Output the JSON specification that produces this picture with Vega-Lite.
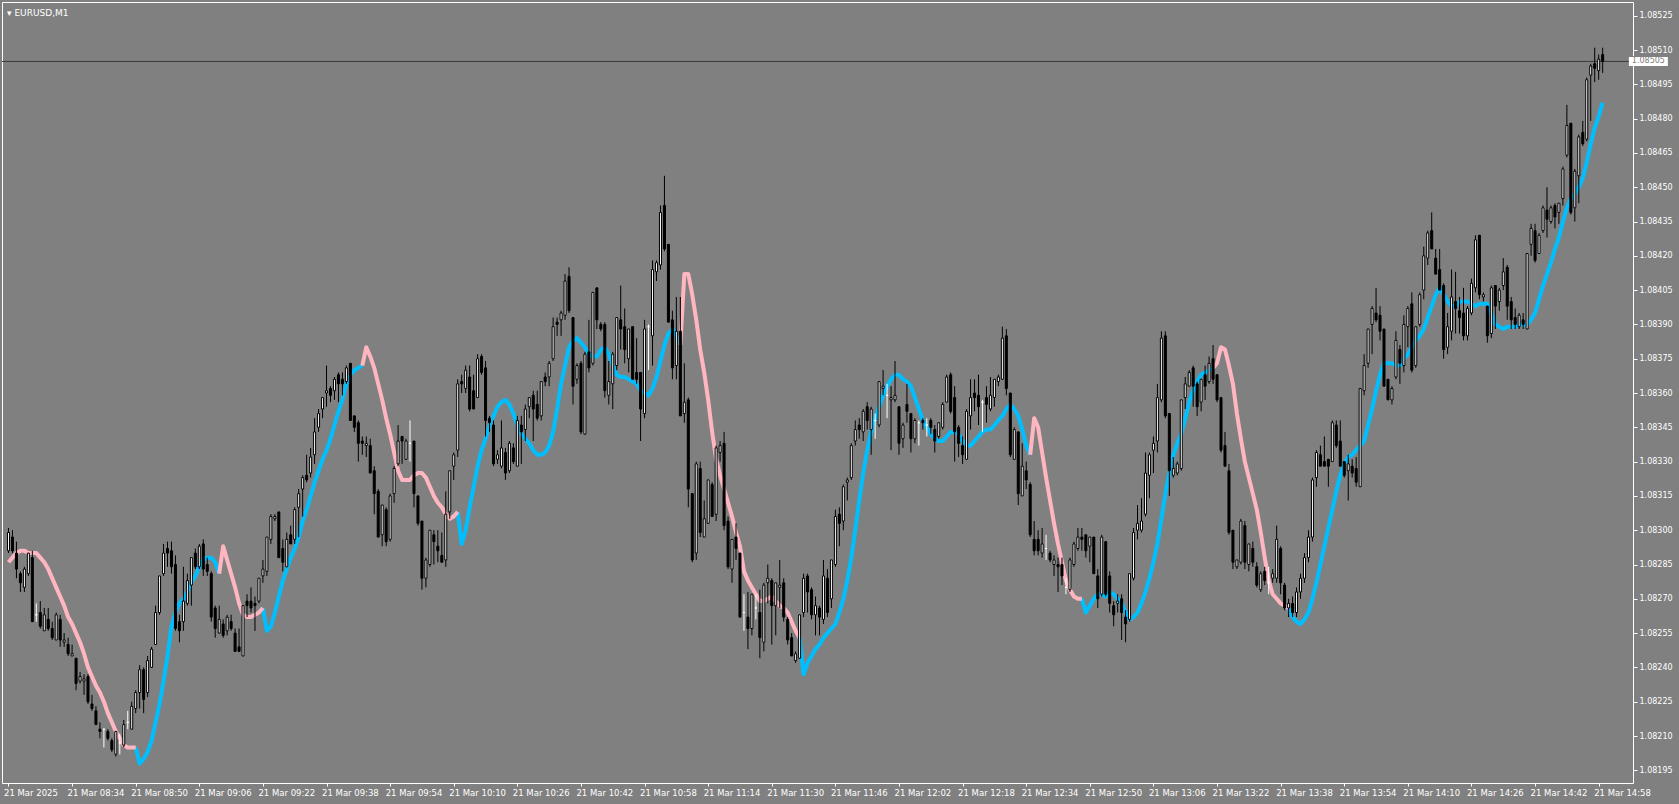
{
"$schema": "https://vega.github.io/schema/vega-lite/v6.json",
"width": 1631, "height": 781,
"autosize": {"type": "none"},
"padding": {"left": 2, "top": 2, "right": 46, "bottom": 21},
"background": "#808080",
"config": {"view": {"stroke": "#ffffff", "strokeWidth": 1, "fill": "#808080"}, "axis": {"labelOverlap": false, "labelFlush": false, "grid": false, "domain": false, "tickColor": "#ffffff", "labelColor": "#ffffff", "labelFont": "DejaVu Sans"}, "axisY": {"labelOverlap": false, "labelFontSize": 8, "tickSize": 4, "labelPadding": 2, "tickCount": 40}},
"title": {"text": "▾ EURUSD,M1", "anchor": "start", "frame": "group", "orient": "top", "offset": -9, "baseline": "middle", "dx": 5, "dy": 11, "fontSize": 9, "font": "DejaVu Sans", "fontWeight": "normal", "color": "#ffffff"},
"data": {"values": [
{"i":0,"o":1.08291,"h":1.08301,"l":1.08290,"c":1.08299,"dn":1.08286},
{"i":1,"o":1.08297,"h":1.08300,"l":1.08290,"c":1.08291,"dn":1.08288},
{"i":2,"o":1.08290,"h":1.08295,"l":1.08279,"c":1.08283,"dn":1.08290},
{"i":3,"o":1.08281,"h":1.08282,"l":1.08273,"c":1.08277,"dn":1.08291},
{"i":4,"o":1.08275,"h":1.08284,"l":1.08273,"c":1.08283,"dn":1.08291},
{"i":5,"o":1.08281,"h":1.08290,"l":1.08280,"c":1.08290,"dn":1.08290},
{"i":6,"o":1.08288,"h":1.08291,"l":1.08260,"c":1.08260,"dn":1.08290},
{"i":7,"o":1.08263,"h":1.08268,"l":1.08260,"c":1.08263,"dn":1.08290},
{"i":8,"o":1.08264,"h":1.08269,"l":1.08257,"c":1.08258,"dn":1.08288},
{"i":9,"o":1.08256,"h":1.08266,"l":1.08256,"c":1.08263,"dn":1.08286},
{"i":10,"o":1.08261,"h":1.08266,"l":1.08256,"c":1.08257,"dn":1.08283},
{"i":11,"o":1.08257,"h":1.08260,"l":1.08252,"c":1.08253,"dn":1.08279},
{"i":12,"o":1.08252,"h":1.08264,"l":1.08252,"c":1.08263,"dn":1.08275},
{"i":13,"o":1.08261,"h":1.08263,"l":1.08249,"c":1.08252,"dn":1.08271},
{"i":14,"o":1.08251,"h":1.08255,"l":1.08249,"c":1.08252,"dn":1.08267},
{"i":15,"o":1.08250,"h":1.08253,"l":1.08245,"c":1.08246,"dn":1.08262},
{"i":16,"o":1.08245,"h":1.08250,"l":1.08245,"c":1.08246,"dn":1.08259},
{"i":17,"o":1.08244,"h":1.08244,"l":1.08230,"c":1.08233,"dn":1.08255},
{"i":18,"o":1.08234,"h":1.08238,"l":1.08233,"c":1.08236,"dn":1.08251},
{"i":19,"o":1.08234,"h":1.08237,"l":1.08228,"c":1.08235,"dn":1.08246},
{"i":20,"o":1.08236,"h":1.08237,"l":1.08224,"c":1.08225,"dn":1.08240},
{"i":21,"o":1.08224,"h":1.08228,"l":1.08221,"c":1.08222,"dn":1.08236},
{"i":22,"o":1.08221,"h":1.08223,"l":1.08215,"c":1.08215,"dn":1.08232},
{"i":23,"o":1.08213,"h":1.08216,"l":1.08209,"c":1.08212,"dn":1.08229},
{"i":24,"o":1.08213,"h":1.08213,"l":1.08205,"c":1.08213,"dn":1.08225},
{"i":25,"o":1.08212,"h":1.08213,"l":1.08208,"c":1.08209,"dn":1.08220},
{"i":26,"o":1.08208,"h":1.08209,"l":1.08203,"c":1.08204,"dn":1.08216},
{"i":27,"o":1.08202,"h":1.08212,"l":1.08201,"c":1.08212,"dn":1.08212},
{"i":28,"o":1.08207,"h":1.08211,"l":1.08202,"c":1.08207,"dn":1.08209},
{"i":29,"o":1.08206,"h":1.08217,"l":1.08205,"c":1.08215,"dn":1.08206},
{"i":30,"o":1.08216,"h":1.08221,"l":1.08213,"c":1.08216,"dn":1.08205},
{"i":31,"o":1.08213,"h":1.08225,"l":1.08213,"c":1.08223,"dn":1.08205},
{"i":32,"o":1.08222,"h":1.08230,"l":1.08220,"c":1.08229,"dn":1.08205,"up":1.08205},
{"i":33,"o":1.08229,"h":1.08241,"l":1.08222,"c":1.08239,"up":1.08198},
{"i":34,"o":1.08239,"h":1.08240,"l":1.08220,"c":1.08226,"up":1.08200},
{"i":35,"o":1.08229,"h":1.08245,"l":1.08227,"c":1.08243,"up":1.08203},
{"i":36,"o":1.08240,"h":1.08249,"l":1.08240,"c":1.08248,"up":1.08208},
{"i":37,"o":1.08250,"h":1.08267,"l":1.08250,"c":1.08264,"up":1.08216},
{"i":38,"o":1.08264,"h":1.08280,"l":1.08263,"c":1.08280,"up":1.08224},
{"i":39,"o":1.08281,"h":1.08294,"l":1.08280,"c":1.08290,"up":1.08234},
{"i":40,"o":1.08292,"h":1.08295,"l":1.08284,"c":1.08290,"up":1.08245},
{"i":41,"o":1.08291,"h":1.08295,"l":1.08281,"c":1.08284,"up":1.08258},
{"i":42,"o":1.08285,"h":1.08289,"l":1.08256,"c":1.08257,"up":1.08264},
{"i":43,"o":1.08260,"h":1.08263,"l":1.08251,"c":1.08256,"up":1.08268},
{"i":44,"o":1.08260,"h":1.08284,"l":1.08256,"c":1.08269,"up":1.08270},
{"i":45,"o":1.08268,"h":1.08281,"l":1.08267,"c":1.08278,"up":1.08273},
{"i":46,"o":1.08276,"h":1.08288,"l":1.08267,"c":1.08288,"up":1.08277},
{"i":47,"o":1.08290,"h":1.08292,"l":1.08283,"c":1.08284,"up":1.08280},
{"i":48,"o":1.08284,"h":1.08294,"l":1.08283,"c":1.08293,"up":1.08284},
{"i":49,"o":1.08294,"h":1.08296,"l":1.08280,"c":1.08283,"up":1.08287},
{"i":50,"o":1.08285,"h":1.08288,"l":1.08280,"c":1.08282,"up":1.08288},
{"i":51,"o":1.08281,"h":1.08282,"l":1.08260,"c":1.08262,"up":1.08288},
{"i":52,"o":1.08266,"h":1.08267,"l":1.08253,"c":1.08257,"up":1.08286},
{"i":53,"o":1.08255,"h":1.08267,"l":1.08255,"c":1.08261,"up":1.08281,"dn":1.08281},
{"i":54,"o":1.08259,"h":1.08261,"l":1.08253,"c":1.08254,"dn":1.08293},
{"i":55,"o":1.08256,"h":1.08263,"l":1.08254,"c":1.08262,"dn":1.08287},
{"i":56,"o":1.08260,"h":1.08263,"l":1.08256,"c":1.08257,"dn":1.08281},
{"i":57,"o":1.08255,"h":1.08257,"l":1.08247,"c":1.08247,"dn":1.08275},
{"i":58,"o":1.08249,"h":1.08257,"l":1.08247,"c":1.08247,"dn":1.08268},
{"i":59,"o":1.08245,"h":1.08267,"l":1.08245,"c":1.08267,"dn":1.08263},
{"i":60,"o":1.08269,"h":1.08272,"l":1.08262,"c":1.08267,"dn":1.08262},
{"i":61,"o":1.08269,"h":1.08275,"l":1.08264,"c":1.08266,"dn":1.08262},
{"i":62,"o":1.08268,"h":1.08271,"l":1.08256,"c":1.08267,"dn":1.08263},
{"i":63,"o":1.08269,"h":1.08279,"l":1.08268,"c":1.08279,"dn":1.08264},
{"i":64,"o":1.08280,"h":1.08287,"l":1.08277,"c":1.08283,"dn":1.08266,"up":1.08266},
{"i":65,"o":1.08282,"h":1.08297,"l":1.08280,"c":1.08297,"up":1.08256},
{"i":66,"o":1.08296,"h":1.08307,"l":1.08294,"c":1.08306,"up":1.08258},
{"i":67,"o":1.08305,"h":1.08307,"l":1.08304,"c":1.08306,"up":1.08264},
{"i":68,"o":1.08308,"h":1.08308,"l":1.08288,"c":1.08288,"up":1.08271},
{"i":69,"o":1.08292,"h":1.08296,"l":1.08282,"c":1.08286,"up":1.08278},
{"i":70,"o":1.08284,"h":1.08299,"l":1.08284,"c":1.08296,"up":1.08283},
{"i":71,"o":1.08298,"h":1.08302,"l":1.08294,"c":1.08294,"up":1.08288},
{"i":72,"o":1.08296,"h":1.08310,"l":1.08294,"c":1.08309,"up":1.08292},
{"i":73,"o":1.08310,"h":1.08318,"l":1.08297,"c":1.08316,"up":1.08297},
{"i":74,"o":1.08318,"h":1.08324,"l":1.08306,"c":1.08323,"up":1.08304},
{"i":75,"o":1.08324,"h":1.08333,"l":1.08321,"c":1.08322,"up":1.08309},
{"i":76,"o":1.08325,"h":1.08336,"l":1.08323,"c":1.08332,"up":1.08315},
{"i":77,"o":1.08333,"h":1.08349,"l":1.08329,"c":1.08343,"up":1.08321},
{"i":78,"o":1.08345,"h":1.08353,"l":1.08343,"c":1.08351,"up":1.08326},
{"i":79,"o":1.08353,"h":1.08358,"l":1.08349,"c":1.08358,"up":1.08331},
{"i":80,"o":1.08360,"h":1.08372,"l":1.08354,"c":1.08361,"up":1.08335},
{"i":81,"o":1.08362,"h":1.08363,"l":1.08356,"c":1.08359,"up":1.08340},
{"i":82,"o":1.08361,"h":1.08367,"l":1.08357,"c":1.08366,"up":1.08346},
{"i":83,"o":1.08368,"h":1.08369,"l":1.08356,"c":1.08364,"up":1.08352},
{"i":84,"o":1.08366,"h":1.08369,"l":1.08359,"c":1.08364,"up":1.08357},
{"i":85,"o":1.08365,"h":1.08372,"l":1.08364,"c":1.08371,"up":1.08364},
{"i":86,"o":1.08373,"h":1.08373,"l":1.08348,"c":1.08348,"up":1.08368},
{"i":87,"o":1.08350,"h":1.08350,"l":1.08343,"c":1.08345,"up":1.08370},
{"i":88,"o":1.08347,"h":1.08348,"l":1.08330,"c":1.08338,"up":1.08371},
{"i":89,"o":1.08339,"h":1.08341,"l":1.08333,"c":1.08338,"up":1.08372,"dn":1.08372},
{"i":90,"o":1.08337,"h":1.08341,"l":1.08332,"c":1.08338,"dn":1.08380},
{"i":91,"o":1.08337,"h":1.08340,"l":1.08325,"c":1.08325,"dn":1.08376},
{"i":92,"o":1.08326,"h":1.08328,"l":1.08307,"c":1.08316,"dn":1.08371},
{"i":93,"o":1.08317,"h":1.08318,"l":1.08297,"c":1.08297,"dn":1.08364},
{"i":94,"o":1.08298,"h":1.08311,"l":1.08293,"c":1.08311,"dn":1.08357},
{"i":95,"o":1.08309,"h":1.08310,"l":1.08293,"c":1.08295,"dn":1.08349},
{"i":96,"o":1.08296,"h":1.08316,"l":1.08295,"c":1.08315,"dn":1.08342},
{"i":97,"o":1.08316,"h":1.08328,"l":1.08312,"c":1.08327,"dn":1.08334},
{"i":98,"o":1.08329,"h":1.08346,"l":1.08328,"c":1.08339,"dn":1.08326},
{"i":99,"o":1.08341,"h":1.08341,"l":1.08329,"c":1.08339,"dn":1.08322},
{"i":100,"o":1.08331,"h":1.08340,"l":1.08331,"c":1.08339,"dn":1.08322},
{"i":101,"o":1.08338,"h":1.08348,"l":1.08330,"c":1.08338,"dn":1.08322},
{"i":102,"o":1.08339,"h":1.08339,"l":1.08310,"c":1.08316,"dn":1.08324},
{"i":103,"o":1.08315,"h":1.08315,"l":1.08302,"c":1.08303,"dn":1.08325},
{"i":104,"o":1.08304,"h":1.08304,"l":1.08274,"c":1.08279,"dn":1.08325},
{"i":105,"o":1.08279,"h":1.08288,"l":1.08275,"c":1.08287,"dn":1.08323},
{"i":106,"o":1.08285,"h":1.08300,"l":1.08284,"c":1.08300,"dn":1.08319},
{"i":107,"o":1.08298,"h":1.08300,"l":1.08285,"c":1.08295,"dn":1.08315},
{"i":108,"o":1.08293,"h":1.08300,"l":1.08286,"c":1.08291,"dn":1.08312},
{"i":109,"o":1.08289,"h":1.08299,"l":1.08286,"c":1.08286,"dn":1.08310},
{"i":110,"o":1.08287,"h":1.08317,"l":1.08284,"c":1.08307,"dn":1.08307},
{"i":111,"o":1.08308,"h":1.08326,"l":1.08305,"c":1.08326,"dn":1.08305},
{"i":112,"o":1.08328,"h":1.08334,"l":1.08322,"c":1.08333,"dn":1.08306},
{"i":113,"o":1.08335,"h":1.08366,"l":1.08332,"c":1.08364,"dn":1.08308,"up":1.08308},
{"i":114,"o":1.08365,"h":1.08368,"l":1.08360,"c":1.08364,"up":1.08294},
{"i":115,"o":1.08362,"h":1.08372,"l":1.08360,"c":1.08370,"up":1.08300},
{"i":116,"o":1.08367,"h":1.08372,"l":1.08352,"c":1.08353,"up":1.08310},
{"i":117,"o":1.08361,"h":1.08368,"l":1.08353,"c":1.08353,"up":1.08319},
{"i":118,"o":1.08358,"h":1.08377,"l":1.08358,"c":1.08375,"up":1.08328},
{"i":119,"o":1.08376,"h":1.08377,"l":1.08368,"c":1.08369,"up":1.08335},
{"i":120,"o":1.08371,"h":1.08374,"l":1.08341,"c":1.08348,"up":1.08340},
{"i":121,"o":1.08349,"h":1.08350,"l":1.08343,"c":1.08347,"up":1.08346},
{"i":122,"o":1.08346,"h":1.08348,"l":1.08328,"c":1.08329,"up":1.08350},
{"i":123,"o":1.08331,"h":1.08335,"l":1.08329,"c":1.08333,"up":1.08354},
{"i":124,"o":1.08328,"h":1.08348,"l":1.08327,"c":1.08336,"up":1.08356},
{"i":125,"o":1.08334,"h":1.08336,"l":1.08322,"c":1.08325,"up":1.08357},
{"i":126,"o":1.08326,"h":1.08339,"l":1.08325,"c":1.08338,"up":1.08355},
{"i":127,"o":1.08336,"h":1.08338,"l":1.08329,"c":1.08330,"up":1.08351},
{"i":128,"o":1.08328,"h":1.08350,"l":1.08328,"c":1.08348,"up":1.08346},
{"i":129,"o":1.08346,"h":1.08350,"l":1.08329,"c":1.08343,"up":1.08342},
{"i":130,"o":1.08344,"h":1.08355,"l":1.08339,"c":1.08353,"up":1.08340},
{"i":131,"o":1.08354,"h":1.08358,"l":1.08349,"c":1.08358,"up":1.08338},
{"i":132,"o":1.08359,"h":1.08361,"l":1.08339,"c":1.08353,"up":1.08335},
{"i":133,"o":1.08355,"h":1.08361,"l":1.08348,"c":1.08349,"up":1.08333},
{"i":134,"o":1.08350,"h":1.08365,"l":1.08348,"c":1.08365,"up":1.08333},
{"i":135,"o":1.08367,"h":1.08369,"l":1.08363,"c":1.08365,"up":1.08334},
{"i":136,"o":1.08367,"h":1.08374,"l":1.08363,"c":1.08373,"up":1.08337},
{"i":137,"o":1.08375,"h":1.08393,"l":1.08374,"c":1.08389,"up":1.08343},
{"i":138,"o":1.08391,"h":1.08393,"l":1.08385,"c":1.08390,"up":1.08353},
{"i":139,"o":1.08392,"h":1.08396,"l":1.08385,"c":1.08395,"up":1.08364},
{"i":140,"o":1.08394,"h":1.08412,"l":1.08392,"c":1.08409,"up":1.08372},
{"i":141,"o":1.08411,"h":1.08415,"l":1.08395,"c":1.08396,"up":1.08380},
{"i":142,"o":1.08393,"h":1.08393,"l":1.08355,"c":1.08363,"up":1.08383},
{"i":143,"o":1.08366,"h":1.08373,"l":1.08364,"c":1.08372,"up":1.08384},
{"i":144,"o":1.08373,"h":1.08374,"l":1.08342,"c":1.08343,"up":1.08382},
{"i":145,"o":1.08342,"h":1.08378,"l":1.08342,"c":1.08377,"up":1.08380},
{"i":146,"o":1.08378,"h":1.08392,"l":1.08369,"c":1.08371,"up":1.08377},
{"i":147,"o":1.08373,"h":1.08404,"l":1.08372,"c":1.08404,"up":1.08376},
{"i":148,"o":1.08406,"h":1.08406,"l":1.08388,"c":1.08392,"up":1.08376},
{"i":149,"o":1.08390,"h":1.08391,"l":1.08387,"c":1.08388,"up":1.08379},
{"i":150,"o":1.08390,"h":1.08391,"l":1.08358,"c":1.08361,"up":1.08380},
{"i":151,"o":1.08359,"h":1.08374,"l":1.08355,"c":1.08365,"up":1.08377},
{"i":152,"o":1.08364,"h":1.08378,"l":1.08353,"c":1.08377,"up":1.08372},
{"i":153,"o":1.08372,"h":1.08393,"l":1.08370,"c":1.08393,"up":1.08368},
{"i":154,"o":1.08392,"h":1.08407,"l":1.08379,"c":1.08388,"up":1.08367},
{"i":155,"o":1.08389,"h":1.08397,"l":1.08373,"c":1.08379,"up":1.08367},
{"i":156,"o":1.08375,"h":1.08388,"l":1.08369,"c":1.08388,"up":1.08366},
{"i":157,"o":1.08389,"h":1.08389,"l":1.08366,"c":1.08366,"up":1.08365},
{"i":158,"o":1.08369,"h":1.08384,"l":1.08364,"c":1.08366,"up":1.08364},
{"i":159,"o":1.08369,"h":1.08369,"l":1.08339,"c":1.08353,"up":1.08361},
{"i":160,"o":1.08351,"h":1.08392,"l":1.08349,"c":1.08388,"up":1.08360},
{"i":161,"o":1.08389,"h":1.08390,"l":1.08370,"c":1.08389,"up":1.08359},
{"i":162,"o":1.08385,"h":1.08418,"l":1.08372,"c":1.08414,"up":1.08362},
{"i":163,"o":1.08413,"h":1.08418,"l":1.08409,"c":1.08417,"up":1.08367},
{"i":164,"o":1.08416,"h":1.08442,"l":1.08414,"c":1.08439,"up":1.08374},
{"i":165,"o":1.08442,"h":1.08455,"l":1.08422,"c":1.08423,"up":1.08381},
{"i":166,"o":1.08425,"h":1.08425,"l":1.08391,"c":1.08391,"up":1.08386},
{"i":167,"o":1.08392,"h":1.08396,"l":1.08366,"c":1.08371,"up":1.08388},
{"i":168,"o":1.08372,"h":1.08402,"l":1.08366,"c":1.08387,"up":1.08385},
{"i":169,"o":1.08387,"h":1.08402,"l":1.08350,"c":1.08350,"up":1.08381,"dn":1.08381},
{"i":170,"o":1.08351,"h":1.08373,"l":1.08347,"c":1.08356,"dn":1.08412},
{"i":171,"o":1.08357,"h":1.08358,"l":1.08310,"c":1.08318,"dn":1.08412},
{"i":172,"o":1.08316,"h":1.08316,"l":1.08286,"c":1.08287,"dn":1.08403},
{"i":173,"o":1.08290,"h":1.08330,"l":1.08287,"c":1.08329,"dn":1.08392},
{"i":174,"o":1.08327,"h":1.08330,"l":1.08297,"c":1.08299,"dn":1.08379},
{"i":175,"o":1.08297,"h":1.08313,"l":1.08297,"c":1.08305,"dn":1.08369},
{"i":176,"o":1.08303,"h":1.08322,"l":1.08303,"c":1.08322,"dn":1.08357},
{"i":177,"o":1.08320,"h":1.08321,"l":1.08306,"c":1.08306,"dn":1.08343},
{"i":178,"o":1.08307,"h":1.08337,"l":1.08304,"c":1.08336,"dn":1.08331},
{"i":179,"o":1.08334,"h":1.08339,"l":1.08330,"c":1.08337,"dn":1.08324},
{"i":180,"o":1.08338,"h":1.08343,"l":1.08300,"c":1.08302,"dn":1.08318},
{"i":181,"o":1.08304,"h":1.08306,"l":1.08283,"c":1.08284,"dn":1.08312},
{"i":182,"o":1.08283,"h":1.08296,"l":1.08277,"c":1.08296,"dn":1.08306},
{"i":183,"o":1.08297,"h":1.08303,"l":1.08287,"c":1.08292,"dn":1.08299},
{"i":184,"o":1.08290,"h":1.08290,"l":1.08262,"c":1.08262,"dn":1.08293},
{"i":185,"o":1.08264,"h":1.08272,"l":1.08256,"c":1.08264,"dn":1.08282},
{"i":186,"o":1.08262,"h":1.08273,"l":1.08248,"c":1.08257,"dn":1.08278},
{"i":187,"o":1.08257,"h":1.08272,"l":1.08254,"c":1.08272,"dn":1.08275},
{"i":188,"o":1.08266,"h":1.08272,"l":1.08261,"c":1.08266,"dn":1.08272},
{"i":189,"o":1.08264,"h":1.08274,"l":1.08244,"c":1.08253,"dn":1.08269},
{"i":190,"o":1.08251,"h":1.08277,"l":1.08247,"c":1.08276,"dn":1.08269},
{"i":191,"o":1.08277,"h":1.08285,"l":1.08268,"c":1.08279,"dn":1.08270},
{"i":192,"o":1.08278,"h":1.08279,"l":1.08250,"c":1.08267,"dn":1.08271},
{"i":193,"o":1.08267,"h":1.08277,"l":1.08254,"c":1.08277,"dn":1.08269},
{"i":194,"o":1.08275,"h":1.08287,"l":1.08266,"c":1.08276,"dn":1.08267},
{"i":195,"o":1.08277,"h":1.08279,"l":1.08260,"c":1.08262,"dn":1.08266},
{"i":196,"o":1.08261,"h":1.08262,"l":1.08250,"c":1.08252,"dn":1.08264},
{"i":197,"o":1.08253,"h":1.08255,"l":1.08245,"c":1.08245,"dn":1.08260},
{"i":198,"o":1.08243,"h":1.08247,"l":1.08242,"c":1.08246,"dn":1.08256},
{"i":199,"o":1.08244,"h":1.08263,"l":1.08244,"c":1.08263,"dn":1.08253,"up":1.08253},
{"i":200,"o":1.08264,"h":1.08281,"l":1.08262,"c":1.08279,"up":1.08237},
{"i":201,"o":1.08280,"h":1.08281,"l":1.08264,"c":1.08273,"up":1.08242},
{"i":202,"o":1.08274,"h":1.08275,"l":1.08261,"c":1.08263,"up":1.08245},
{"i":203,"o":1.08263,"h":1.08271,"l":1.08254,"c":1.08267,"up":1.08248},
{"i":204,"o":1.08266,"h":1.08267,"l":1.08254,"c":1.08262,"up":1.08250},
{"i":205,"o":1.08261,"h":1.08287,"l":1.08259,"c":1.08280,"up":1.08253},
{"i":206,"o":1.08279,"h":1.08283,"l":1.08262,"c":1.08264,"up":1.08255},
{"i":207,"o":1.08270,"h":1.08287,"l":1.08266,"c":1.08287,"up":1.08257},
{"i":208,"o":1.08285,"h":1.08309,"l":1.08284,"c":1.08306,"up":1.08259},
{"i":209,"o":1.08307,"h":1.08310,"l":1.08293,"c":1.08303,"up":1.08264},
{"i":210,"o":1.08304,"h":1.08320,"l":1.08300,"c":1.08319,"up":1.08270},
{"i":211,"o":1.08321,"h":1.08323,"l":1.08313,"c":1.08322,"up":1.08278},
{"i":212,"o":1.08323,"h":1.08338,"l":1.08322,"c":1.08337,"up":1.08288},
{"i":213,"o":1.08339,"h":1.08348,"l":1.08337,"c":1.08344,"up":1.08300},
{"i":214,"o":1.08346,"h":1.08349,"l":1.08340,"c":1.08344,"up":1.08313},
{"i":215,"o":1.08343,"h":1.08353,"l":1.08339,"c":1.08352,"up":1.08325},
{"i":216,"o":1.08354,"h":1.08356,"l":1.08344,"c":1.08348,"up":1.08335},
{"i":217,"o":1.08344,"h":1.08354,"l":1.08333,"c":1.08353,"up":1.08343},
{"i":218,"o":1.08348,"h":1.08351,"l":1.08340,"c":1.08348,"up":1.08349},
{"i":219,"o":1.08346,"h":1.08365,"l":1.08345,"c":1.08365,"up":1.08354},
{"i":220,"o":1.08362,"h":1.08370,"l":1.08359,"c":1.08363,"up":1.08359},
{"i":221,"o":1.08359,"h":1.08364,"l":1.08349,"c":1.08359,"up":1.08363},
{"i":222,"o":1.08357,"h":1.08363,"l":1.08335,"c":1.08358,"up":1.08366},
{"i":223,"o":1.08357,"h":1.08374,"l":1.08356,"c":1.08359,"up":1.08368},
{"i":224,"o":1.08354,"h":1.08354,"l":1.08333,"c":1.08338,"up":1.08368},
{"i":225,"o":1.08340,"h":1.08347,"l":1.08336,"c":1.08346,"up":1.08366},
{"i":226,"o":1.08355,"h":1.08364,"l":1.08347,"c":1.08352,"up":1.08365},
{"i":227,"o":1.08351,"h":1.08351,"l":1.08334,"c":1.08340,"up":1.08363},
{"i":228,"o":1.08340,"h":1.08349,"l":1.08338,"c":1.08348,"up":1.08358},
{"i":229,"o":1.08347,"h":1.08348,"l":1.08337,"c":1.08347,"up":1.08353},
{"i":230,"o":1.08348,"h":1.08349,"l":1.08344,"c":1.08347,"up":1.08348},
{"i":231,"o":1.08346,"h":1.08349,"l":1.08341,"c":1.08346,"up":1.08345},
{"i":232,"o":1.08348,"h":1.08349,"l":1.08342,"c":1.08345,"up":1.08342},
{"i":233,"o":1.08344,"h":1.08346,"l":1.08334,"c":1.08339,"up":1.08340},
{"i":234,"o":1.08341,"h":1.08347,"l":1.08340,"c":1.08347,"up":1.08339},
{"i":235,"o":1.08345,"h":1.08356,"l":1.08344,"c":1.08355,"up":1.08339},
{"i":236,"o":1.08356,"h":1.08368,"l":1.08356,"c":1.08367,"up":1.08341},
{"i":237,"o":1.08368,"h":1.08369,"l":1.08351,"c":1.08352,"up":1.08343},
{"i":238,"o":1.08358,"h":1.08363,"l":1.08330,"c":1.08343,"up":1.08343},
{"i":239,"o":1.08345,"h":1.08346,"l":1.08332,"c":1.08338,"up":1.08342},
{"i":240,"o":1.08337,"h":1.08341,"l":1.08329,"c":1.08333,"up":1.08339},
{"i":241,"o":1.08331,"h":1.08353,"l":1.08331,"c":1.08352,"up":1.08337},
{"i":242,"o":1.08350,"h":1.08366,"l":1.08344,"c":1.08358,"up":1.08337},
{"i":243,"o":1.08360,"h":1.08366,"l":1.08352,"c":1.08358,"up":1.08339},
{"i":244,"o":1.08359,"h":1.08368,"l":1.08346,"c":1.08354,"up":1.08341},
{"i":245,"o":1.08356,"h":1.08357,"l":1.08343,"c":1.08356,"up":1.08343},
{"i":246,"o":1.08358,"h":1.08363,"l":1.08347,"c":1.08355,"up":1.08344},
{"i":247,"o":1.08353,"h":1.08367,"l":1.08352,"c":1.08359,"up":1.08344},
{"i":248,"o":1.08358,"h":1.08366,"l":1.08354,"c":1.08366,"up":1.08346},
{"i":249,"o":1.08365,"h":1.08368,"l":1.08363,"c":1.08367,"up":1.08348},
{"i":250,"o":1.08366,"h":1.08389,"l":1.08366,"c":1.08384,"up":1.08350},
{"i":251,"o":1.08385,"h":1.08388,"l":1.08359,"c":1.08362,"up":1.08353},
{"i":252,"o":1.08360,"h":1.08360,"l":1.08332,"c":1.08333,"up":1.08355},
{"i":253,"o":1.08331,"h":1.08345,"l":1.08331,"c":1.08344,"up":1.08353},
{"i":254,"o":1.08343,"h":1.08343,"l":1.08311,"c":1.08316,"up":1.08350},
{"i":255,"o":1.08315,"h":1.08338,"l":1.08315,"c":1.08328,"up":1.08344},
{"i":256,"o":1.08326,"h":1.08330,"l":1.08318,"c":1.08322,"up":1.08337},
{"i":257,"o":1.08320,"h":1.08321,"l":1.08297,"c":1.08298,"up":1.08333,"dn":1.08333},
{"i":258,"o":1.08296,"h":1.08304,"l":1.08289,"c":1.08291,"dn":1.08349},
{"i":259,"o":1.08296,"h":1.08300,"l":1.08289,"c":1.08291,"dn":1.08345},
{"i":260,"o":1.08290,"h":1.08301,"l":1.08288,"c":1.08294,"dn":1.08334},
{"i":261,"o":1.08292,"h":1.08298,"l":1.08287,"c":1.08292,"dn":1.08323},
{"i":262,"o":1.08290,"h":1.08291,"l":1.08286,"c":1.08287,"dn":1.08313},
{"i":263,"o":1.08285,"h":1.08289,"l":1.08280,"c":1.08287,"dn":1.08303},
{"i":264,"o":1.08285,"h":1.08288,"l":1.08273,"c":1.08284,"dn":1.08294},
{"i":265,"o":1.08285,"h":1.08288,"l":1.08276,"c":1.08280,"dn":1.08286},
{"i":266,"o":1.08275,"h":1.08279,"l":1.08272,"c":1.08275,"dn":1.08278},
{"i":267,"o":1.08274,"h":1.08288,"l":1.08273,"c":1.08287,"dn":1.08274},
{"i":268,"o":1.08285,"h":1.08295,"l":1.08284,"c":1.08294,"dn":1.08271},
{"i":269,"o":1.08292,"h":1.08301,"l":1.08291,"c":1.08297,"dn":1.08270},
{"i":270,"o":1.08297,"h":1.08301,"l":1.08291,"c":1.08296,"dn":1.08270,"up":1.08270},
{"i":271,"o":1.08298,"h":1.08298,"l":1.08288,"c":1.08291,"up":1.08264},
{"i":272,"o":1.08293,"h":1.08297,"l":1.08286,"c":1.08297,"up":1.08267},
{"i":273,"o":1.08297,"h":1.08297,"l":1.08281,"c":1.08281,"up":1.08270},
{"i":274,"o":1.08280,"h":1.08283,"l":1.08266,"c":1.08270,"up":1.08272},
{"i":275,"o":1.08272,"h":1.08298,"l":1.08271,"c":1.08297,"up":1.08272},
{"i":276,"o":1.08295,"h":1.08295,"l":1.08271,"c":1.08272,"up":1.08271},
{"i":277,"o":1.08280,"h":1.08282,"l":1.08264,"c":1.08268,"up":1.08273},
{"i":278,"o":1.08267,"h":1.08269,"l":1.08258,"c":1.08263,"up":1.08272},
{"i":279,"o":1.08268,"h":1.08272,"l":1.08264,"c":1.08269,"up":1.08270},
{"i":280,"o":1.08270,"h":1.08272,"l":1.08252,"c":1.08264,"up":1.08268},
{"i":281,"o":1.08262,"h":1.08265,"l":1.08251,"c":1.08259,"up":1.08264},
{"i":282,"o":1.08261,"h":1.08281,"l":1.08260,"c":1.08281,"up":1.08261},
{"i":283,"o":1.08279,"h":1.08301,"l":1.08278,"c":1.08299,"up":1.08262},
{"i":284,"o":1.08300,"h":1.08311,"l":1.08296,"c":1.08303,"up":1.08264},
{"i":285,"o":1.08300,"h":1.08314,"l":1.08299,"c":1.08304,"up":1.08268},
{"i":286,"o":1.08307,"h":1.08334,"l":1.08306,"c":1.08325,"up":1.08273},
{"i":287,"o":1.08324,"h":1.08334,"l":1.08314,"c":1.08333,"up":1.08279},
{"i":288,"o":1.08335,"h":1.08341,"l":1.08325,"c":1.08338,"up":1.08286},
{"i":289,"o":1.08339,"h":1.08364,"l":1.08334,"c":1.08358,"up":1.08294},
{"i":290,"o":1.08357,"h":1.08387,"l":1.08356,"c":1.08384,"up":1.08305},
{"i":291,"o":1.08385,"h":1.08387,"l":1.08349,"c":1.08350,"up":1.08316},
{"i":292,"o":1.08351,"h":1.08351,"l":1.08315,"c":1.08326,"up":1.08325},
{"i":293,"o":1.08324,"h":1.08332,"l":1.08323,"c":1.08327,"up":1.08333},
{"i":294,"o":1.08325,"h":1.08330,"l":1.08324,"c":1.08329,"up":1.08338},
{"i":295,"o":1.08327,"h":1.08357,"l":1.08326,"c":1.08357,"up":1.08342},
{"i":296,"o":1.08358,"h":1.08367,"l":1.08353,"c":1.08364,"up":1.08349},
{"i":297,"o":1.08363,"h":1.08370,"l":1.08363,"c":1.08369,"up":1.08356},
{"i":298,"o":1.08371,"h":1.08372,"l":1.08354,"c":1.08363,"up":1.08361},
{"i":299,"o":1.08364,"h":1.08365,"l":1.08350,"c":1.08354,"up":1.08365},
{"i":300,"o":1.08356,"h":1.08366,"l":1.08352,"c":1.08366,"up":1.08368},
{"i":301,"o":1.08368,"h":1.08372,"l":1.08357,"c":1.08363,"up":1.08369},
{"i":302,"o":1.08365,"h":1.08376,"l":1.08364,"c":1.08373,"up":1.08370},
{"i":303,"o":1.08375,"h":1.08381,"l":1.08364,"c":1.08366,"up":1.08371,"dn":1.08371},
{"i":304,"o":1.08368,"h":1.08368,"l":1.08356,"c":1.08357,"dn":1.08373},
{"i":305,"o":1.08358,"h":1.08358,"l":1.08334,"c":1.08335,"dn":1.08380},
{"i":306,"o":1.08337,"h":1.08343,"l":1.08328,"c":1.08328,"dn":1.08379},
{"i":307,"o":1.08326,"h":1.08329,"l":1.08298,"c":1.08299,"dn":1.08372},
{"i":308,"o":1.08300,"h":1.08300,"l":1.08283,"c":1.08286,"dn":1.08364},
{"i":309,"o":1.08284,"h":1.08287,"l":1.08283,"c":1.08287,"dn":1.08351},
{"i":310,"o":1.08286,"h":1.08305,"l":1.08285,"c":1.08304,"dn":1.08340},
{"i":311,"o":1.08302,"h":1.08304,"l":1.08283,"c":1.08286,"dn":1.08330},
{"i":312,"o":1.08285,"h":1.08294,"l":1.08282,"c":1.08294,"dn":1.08323},
{"i":313,"o":1.08292,"h":1.08295,"l":1.08284,"c":1.08286,"dn":1.08316},
{"i":314,"o":1.08284,"h":1.08286,"l":1.08275,"c":1.08276,"dn":1.08309},
{"i":315,"o":1.08274,"h":1.08282,"l":1.08273,"c":1.08281,"dn":1.08299},
{"i":316,"o":1.08282,"h":1.08284,"l":1.08276,"c":1.08278,"dn":1.08288},
{"i":317,"o":1.08277,"h":1.08284,"l":1.08272,"c":1.08277,"dn":1.08278},
{"i":318,"o":1.08279,"h":1.08283,"l":1.08277,"c":1.08281,"dn":1.08272},
{"i":319,"o":1.08279,"h":1.08302,"l":1.08277,"c":1.08296,"dn":1.08270},
{"i":320,"o":1.08292,"h":1.08293,"l":1.08272,"c":1.08277,"dn":1.08268},
{"i":321,"o":1.08276,"h":1.08277,"l":1.08265,"c":1.08266,"dn":1.08267},
{"i":322,"o":1.08266,"h":1.08270,"l":1.08262,"c":1.08268,"dn":1.08266,"up":1.08266},
{"i":323,"o":1.08268,"h":1.08271,"l":1.08262,"c":1.08264,"up":1.08262},
{"i":324,"o":1.08264,"h":1.08275,"l":1.08262,"c":1.08273,"up":1.08260},
{"i":325,"o":1.08273,"h":1.08281,"l":1.08270,"c":1.08279,"up":1.08259},
{"i":326,"o":1.08279,"h":1.08290,"l":1.08277,"c":1.08288,"up":1.08261},
{"i":327,"o":1.08288,"h":1.08300,"l":1.08286,"c":1.08297,"up":1.08264},
{"i":328,"o":1.08297,"h":1.08323,"l":1.08295,"c":1.08322,"up":1.08270},
{"i":329,"o":1.08323,"h":1.08335,"l":1.08319,"c":1.08334,"up":1.08277},
{"i":330,"o":1.08333,"h":1.08337,"l":1.08328,"c":1.08328,"up":1.08285},
{"i":331,"o":1.08330,"h":1.08341,"l":1.08328,"c":1.08328,"up":1.08293},
{"i":332,"o":1.08331,"h":1.08331,"l":1.08319,"c":1.08328,"up":1.08301},
{"i":333,"o":1.08330,"h":1.08348,"l":1.08330,"c":1.08347,"up":1.08309},
{"i":334,"o":1.08346,"h":1.08348,"l":1.08336,"c":1.08337,"up":1.08317},
{"i":335,"o":1.08339,"h":1.08348,"l":1.08328,"c":1.08328,"up":1.08324},
{"i":336,"o":1.08330,"h":1.08330,"l":1.08323,"c":1.08324,"up":1.08329},
{"i":337,"o":1.08326,"h":1.08333,"l":1.08313,"c":1.08329,"up":1.08332},
{"i":338,"o":1.08328,"h":1.08331,"l":1.08323,"c":1.08325,"up":1.08333},
{"i":339,"o":1.08327,"h":1.08332,"l":1.08319,"c":1.08321,"up":1.08335},
{"i":340,"o":1.08319,"h":1.08362,"l":1.08319,"c":1.08362,"up":1.08337},
{"i":341,"o":1.08361,"h":1.08377,"l":1.08359,"c":1.08372,"up":1.08339},
{"i":342,"o":1.08373,"h":1.08388,"l":1.08371,"c":1.08388,"up":1.08346},
{"i":343,"o":1.08390,"h":1.08398,"l":1.08377,"c":1.08397,"up":1.08353},
{"i":344,"o":1.08395,"h":1.08406,"l":1.08391,"c":1.08392,"up":1.08361},
{"i":345,"o":1.08394,"h":1.08398,"l":1.08383,"c":1.08387,"up":1.08368},
{"i":346,"o":1.08388,"h":1.08388,"l":1.08363,"c":1.08363,"up":1.08373},
{"i":347,"o":1.08366,"h":1.08366,"l":1.08357,"c":1.08357,"up":1.08373},
{"i":348,"o":1.08357,"h":1.08363,"l":1.08355,"c":1.08362,"up":1.08373},
{"i":349,"o":1.08367,"h":1.08387,"l":1.08366,"c":1.08383,"up":1.08372},
{"i":350,"o":1.08379,"h":1.08381,"l":1.08364,"c":1.08373,"up":1.08372},
{"i":351,"o":1.08372,"h":1.08394,"l":1.08369,"c":1.08390,"up":1.08375},
{"i":352,"o":1.08389,"h":1.08398,"l":1.08380,"c":1.08397,"up":1.08377},
{"i":353,"o":1.08399,"h":1.08404,"l":1.08369,"c":1.08370,"up":1.08380},
{"i":354,"o":1.08372,"h":1.08389,"l":1.08371,"c":1.08389,"up":1.08383},
{"i":355,"o":1.08390,"h":1.08404,"l":1.08389,"c":1.08403,"up":1.08385},
{"i":356,"o":1.08405,"h":1.08424,"l":1.08401,"c":1.08420,"up":1.08388},
{"i":357,"o":1.08419,"h":1.08431,"l":1.08416,"c":1.08430,"up":1.08393},
{"i":358,"o":1.08431,"h":1.08439,"l":1.08423,"c":1.08423,"up":1.08398},
{"i":359,"o":1.08419,"h":1.08423,"l":1.08412,"c":1.08412,"up":1.08403},
{"i":360,"o":1.08414,"h":1.08423,"l":1.08405,"c":1.08405,"up":1.08406},
{"i":361,"o":1.08407,"h":1.08408,"l":1.08375,"c":1.08379,"up":1.08403},
{"i":362,"o":1.08380,"h":1.08395,"l":1.08377,"c":1.08389,"up":1.08400},
{"i":363,"o":1.08387,"h":1.08414,"l":1.08383,"c":1.08402,"up":1.08398},
{"i":364,"o":1.08400,"h":1.08413,"l":1.08386,"c":1.08397,"up":1.08398},
{"i":365,"o":1.08396,"h":1.08402,"l":1.08386,"c":1.08393,"up":1.08400},
{"i":366,"o":1.08395,"h":1.08406,"l":1.08383,"c":1.08385,"up":1.08400},
{"i":367,"o":1.08385,"h":1.08398,"l":1.08383,"c":1.08397,"up":1.08400},
{"i":368,"o":1.08395,"h":1.08410,"l":1.08394,"c":1.08408,"up":1.08399},
{"i":369,"o":1.08406,"h":1.08429,"l":1.08404,"c":1.08427,"up":1.08398},
{"i":370,"o":1.08429,"h":1.08429,"l":1.08401,"c":1.08403,"up":1.08399},
{"i":371,"o":1.08402,"h":1.08404,"l":1.08400,"c":1.08403,"up":1.08399},
{"i":372,"o":1.08398,"h":1.08398,"l":1.08382,"c":1.08385,"up":1.08399},
{"i":373,"o":1.08386,"h":1.08407,"l":1.08384,"c":1.08406,"up":1.08395},
{"i":374,"o":1.08407,"h":1.08407,"l":1.08388,"c":1.08398,"up":1.08390},
{"i":375,"o":1.08400,"h":1.08406,"l":1.08396,"c":1.08405,"up":1.08389},
{"i":376,"o":1.08407,"h":1.08419,"l":1.08405,"c":1.08413,"up":1.08388},
{"i":377,"o":1.08415,"h":1.08416,"l":1.08392,"c":1.08398,"up":1.08389},
{"i":378,"o":1.08400,"h":1.08402,"l":1.08388,"c":1.08392,"up":1.08389},
{"i":379,"o":1.08393,"h":1.08397,"l":1.08388,"c":1.08390,"up":1.08389},
{"i":380,"o":1.08389,"h":1.08395,"l":1.08388,"c":1.08394,"up":1.08390},
{"i":381,"o":1.08392,"h":1.08395,"l":1.08388,"c":1.08390,"up":1.08390},
{"i":382,"o":1.08388,"h":1.08421,"l":1.08388,"c":1.08421,"up":1.08390},
{"i":383,"o":1.08425,"h":1.08434,"l":1.08420,"c":1.08432,"up":1.08392},
{"i":384,"o":1.08431,"h":1.08434,"l":1.08417,"c":1.08418,"up":1.08395},
{"i":385,"o":1.08421,"h":1.08430,"l":1.08421,"c":1.08429,"up":1.08401},
{"i":386,"o":1.08431,"h":1.08442,"l":1.08430,"c":1.08441,"up":1.08407},
{"i":387,"o":1.08440,"h":1.08450,"l":1.08428,"c":1.08436,"up":1.08412},
{"i":388,"o":1.08435,"h":1.08442,"l":1.08434,"c":1.08441,"up":1.08417},
{"i":389,"o":1.08442,"h":1.08443,"l":1.08432,"c":1.08437,"up":1.08423},
{"i":390,"o":1.08439,"h":1.08443,"l":1.08434,"c":1.08443,"up":1.08428},
{"i":391,"o":1.08445,"h":1.08459,"l":1.08442,"c":1.08458,"up":1.08435},
{"i":392,"o":1.08464,"h":1.08486,"l":1.08463,"c":1.08477,"up":1.08441},
{"i":393,"o":1.08478,"h":1.08478,"l":1.08438,"c":1.08439,"up":1.08445},
{"i":394,"o":1.08441,"h":1.08458,"l":1.08435,"c":1.08457,"up":1.08447},
{"i":395,"o":1.08455,"h":1.08473,"l":1.08443,"c":1.08472,"up":1.08450},
{"i":396,"o":1.08474,"h":1.08479,"l":1.08468,"c":1.08469,"up":1.08454},
{"i":397,"o":1.08471,"h":1.08498,"l":1.08470,"c":1.08497,"up":1.08461},
{"i":398,"o":1.08499,"h":1.08504,"l":1.08479,"c":1.08503,"up":1.08469},
{"i":399,"o":1.08504,"h":1.08511,"l":1.08496,"c":1.08502,"up":1.08476},
{"i":400,"o":1.08501,"h":1.08508,"l":1.08497,"c":1.08506,"up":1.08481},
{"i":401,"o":1.08508,"h":1.08511,"l":1.08500,"c":1.08505,"up":1.08487}
]},
"layer": [
{"data": {"values": [{}]},
 "mark": {"type": "rule", "color": "#3a3a3a", "strokeWidth": 1},
 "encoding": {"y": {"datum": 1.08505, "type": "quantitative", "scale": {"domain": [1.0818945, 1.08531], "nice": false, "zero": false}, "axis": {"orient": "right", "title": null, "values": [1.08195,1.0821,1.08225,1.0824,1.08255,1.0827,1.08285,1.083,1.08315,1.0833,1.08345,1.0836,1.08375,1.0839,1.08405,1.0842,1.08435,1.0845,1.08465,1.0848,1.08495,1.0851,1.08525], "tickCount": 40, "format": ".5f", "tickSize": 4, "labelFontSize": 8, "labelPadding": 2, "labelBaseline": "middle", "labelOverlap": false, "labelFlush": false}}}},
{"mark": {"type": "line", "color": "#00BFFF", "strokeWidth": 4, "strokeJoin": "round", "invalid": "break-paths-show-domains"},
 "encoding": {
  "x": {"field": "i", "type": "quantitative", "title": null, "scale": {"domain": [-0.375, 407.375], "nice": false, "zero": false}, "axis": {"title": null, "values": [0,16,32,48,64,80,96,112,128,144,160,176,192,208,224,240,256,272,288,304,320,336,352,368,384,400], "tickCount": 60, "labelExpr": "datum.value == 0 ? '21 Mar 2025' : '21 Mar ' + timeFormat(datetime(2025, 2, 21, 8, 18 + datum.value), '%H:%M')", "labelAlign": "left", "labelBaseline": "top", "labelPadding": 2, "labelOffset": -5, "tickSize": 3, "labelFontSize": 8.5, "labelOverlap": false, "labelFlush": false, "labelBound": false}},
  "y": {"field": "up", "type": "quantitative", "title": null}}},
{"mark": {"type": "line", "color": "#FFB6C1", "strokeWidth": 4, "strokeJoin": "round", "invalid": "break-paths-show-domains"},
 "encoding": {
  "x": {"field": "i", "type": "quantitative", "title": null},
  "y": {"field": "dn", "type": "quantitative", "title": null}}},
{"mark": {"type": "rule", "strokeWidth": 1},
 "encoding": {
  "x": {"field": "i", "type": "quantitative", "title": null},
  "y": {"field": "l", "type": "quantitative", "title": null},
  "y2": {"field": "h"},
  "stroke": {"condition": {"test": "datum.c == datum.o", "value": "#ffffff"}, "value": "#000000"}}},
{"mark": {"type": "bar", "size": 2, "strokeWidth": 1},
 "encoding": {
  "x": {"field": "i", "type": "quantitative", "title": null},
  "y": {"field": "o", "type": "quantitative", "title": null},
  "y2": {"field": "c"},
  "fill": {"condition": {"test": "datum.c > datum.o", "value": "#ffffff"}, "value": "#000000"},
  "stroke": {"condition": {"test": "datum.c == datum.o", "value": "#ffffff"}, "value": "#000000"}}},
{"data": {"values": [{}]},
 "mark": {"type": "rect", "fill": "#ffffff"},
 "encoding": {
  "x": {"datum": 407.6, "type": "quantitative"}, "x2": {"datum": 417.4},
  "y": {"datum": 1.08507, "type": "quantitative"}, "y2": {"datum": 1.08503}}},
{"data": {"values": [{}]},
 "mark": {"type": "text", "text": "1.08505", "font": "DejaVu Sans", "fontSize": 8, "color": "#808080", "align": "center", "baseline": "middle"},
 "encoding": {
  "x": {"datum": 412.5, "type": "quantitative"},
  "y": {"datum": 1.08505, "type": "quantitative"}}}
]
}
